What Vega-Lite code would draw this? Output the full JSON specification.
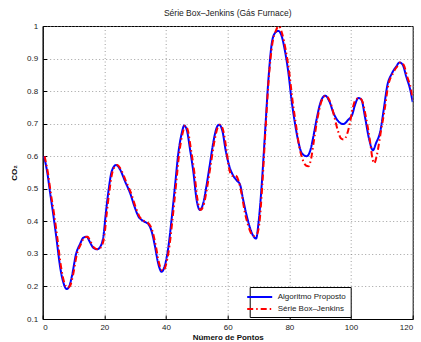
{
  "$schema": "https://vega.github.io/schema/vega-lite/v6.json",
  "width": 370,
  "height": 293,
  "autosize": {"type": "none"},
  "padding": {"left": 42.7, "top": 26, "right": 8.3, "bottom": 23},
  "background": "white",
  "title": {"text": "Série Box–Jenkins (Gás Furnace)", "fontSize": 8.5, "fontWeight": "normal", "font": "Liberation Sans", "color": "#222", "offset": 5},
  "config": {
    "font": "Liberation Sans",
    "view": {"stroke": "black", "strokeWidth": 1},
    "axis": {
      "domainColor": "black", "domainWidth": 1,
      "gridColor": "#888", "gridDash": [1, 2.5], "gridOpacity": 1, "gridWidth": 0.8,
      "tickColor": "black", "tickSize": -4, "tickWidth": 1,
      "labelFont": "Liberation Sans", "labelFontSize": 8, "labelColor": "#222",
      "titleFont": "Liberation Sans", "titleFontSize": 8, "titleFontWeight": "bold", "titleColor": "#111"
    },
    "legend": {
      "orient": "none", "legendX": 207, "legendY": 261,
      "title": null,
      "strokeColor": "black", "fillColor": "white", "padding": 4,
      "symbolType": "M-2.5,0H2.5", "symbolSize": 100, "symbolStrokeWidth": 2,
      "labelFont": "Liberation Sans", "labelFontSize": 8, "labelColor": "#222", "labelOffset": 12,
      "rowPadding": 2
    }
  },
  "data": {"values": [
    {"t": 0.43, "v": 0.600, "s": "Algoritmo Proposto"},
    {"t": 1.5, "v": 0.549, "s": "Algoritmo Proposto"},
    {"t": 2.4, "v": 0.488, "s": "Algoritmo Proposto"},
    {"t": 3.5, "v": 0.416, "s": "Algoritmo Proposto"},
    {"t": 4.5, "v": 0.345, "s": "Algoritmo Proposto"},
    {"t": 5.6, "v": 0.263, "s": "Algoritmo Proposto"},
    {"t": 6.7, "v": 0.212, "s": "Algoritmo Proposto"},
    {"t": 7.8, "v": 0.192, "s": "Algoritmo Proposto"},
    {"t": 8.6, "v": 0.200, "s": "Algoritmo Proposto"},
    {"t": 9.5, "v": 0.233, "s": "Algoritmo Proposto"},
    {"t": 10.8, "v": 0.299, "s": "Algoritmo Proposto"},
    {"t": 12.1, "v": 0.330, "s": "Algoritmo Proposto"},
    {"t": 13.2, "v": 0.350, "s": "Algoritmo Proposto"},
    {"t": 14.3, "v": 0.353, "s": "Algoritmo Proposto"},
    {"t": 15.1, "v": 0.340, "s": "Algoritmo Proposto"},
    {"t": 16.4, "v": 0.319, "s": "Algoritmo Proposto"},
    {"t": 17.7, "v": 0.314, "s": "Algoritmo Proposto"},
    {"t": 18.8, "v": 0.324, "s": "Algoritmo Proposto"},
    {"t": 19.7, "v": 0.355, "s": "Algoritmo Proposto"},
    {"t": 20.5, "v": 0.427, "s": "Algoritmo Proposto"},
    {"t": 21.4, "v": 0.498, "s": "Algoritmo Proposto"},
    {"t": 22.4, "v": 0.554, "s": "Algoritmo Proposto"},
    {"t": 23.8, "v": 0.573, "s": "Algoritmo Proposto"},
    {"t": 25.1, "v": 0.559, "s": "Algoritmo Proposto"},
    {"t": 26.7, "v": 0.523, "s": "Algoritmo Proposto"},
    {"t": 28.3, "v": 0.488, "s": "Algoritmo Proposto"},
    {"t": 29.9, "v": 0.442, "s": "Algoritmo Proposto"},
    {"t": 31.0, "v": 0.416, "s": "Algoritmo Proposto"},
    {"t": 32.6, "v": 0.401, "s": "Algoritmo Proposto"},
    {"t": 34.3, "v": 0.391, "s": "Algoritmo Proposto"},
    {"t": 35.3, "v": 0.370, "s": "Algoritmo Proposto"},
    {"t": 36.4, "v": 0.324, "s": "Algoritmo Proposto"},
    {"t": 37.4, "v": 0.273, "s": "Algoritmo Proposto"},
    {"t": 38.6, "v": 0.245, "s": "Algoritmo Proposto"},
    {"t": 39.4, "v": 0.258, "s": "Algoritmo Proposto"},
    {"t": 40.8, "v": 0.324, "s": "Algoritmo Proposto"},
    {"t": 41.8, "v": 0.406, "s": "Algoritmo Proposto"},
    {"t": 42.9, "v": 0.508, "s": "Algoritmo Proposto"},
    {"t": 44.0, "v": 0.610, "s": "Algoritmo Proposto"},
    {"t": 45.1, "v": 0.671, "s": "Algoritmo Proposto"},
    {"t": 45.9, "v": 0.694, "s": "Algoritmo Proposto"},
    {"t": 46.7, "v": 0.682, "s": "Algoritmo Proposto"},
    {"t": 47.8, "v": 0.620, "s": "Algoritmo Proposto"},
    {"t": 48.9, "v": 0.549, "s": "Algoritmo Proposto"},
    {"t": 49.9, "v": 0.467, "s": "Algoritmo Proposto"},
    {"t": 51.0, "v": 0.435, "s": "Algoritmo Proposto"},
    {"t": 52.1, "v": 0.457, "s": "Algoritmo Proposto"},
    {"t": 53.1, "v": 0.508, "s": "Algoritmo Proposto"},
    {"t": 54.3, "v": 0.580, "s": "Algoritmo Proposto"},
    {"t": 55.3, "v": 0.641, "s": "Algoritmo Proposto"},
    {"t": 56.4, "v": 0.687, "s": "Algoritmo Proposto"},
    {"t": 57.2, "v": 0.697, "s": "Algoritmo Proposto"},
    {"t": 58.3, "v": 0.677, "s": "Algoritmo Proposto"},
    {"t": 59.3, "v": 0.620, "s": "Algoritmo Proposto"},
    {"t": 60.4, "v": 0.574, "s": "Algoritmo Proposto"},
    {"t": 61.8, "v": 0.540, "s": "Algoritmo Proposto"},
    {"t": 62.9, "v": 0.526, "s": "Algoritmo Proposto"},
    {"t": 64.0, "v": 0.513, "s": "Algoritmo Proposto"},
    {"t": 65.0, "v": 0.467, "s": "Algoritmo Proposto"},
    {"t": 66.2, "v": 0.416, "s": "Algoritmo Proposto"},
    {"t": 67.2, "v": 0.381, "s": "Algoritmo Proposto"},
    {"t": 68.3, "v": 0.355, "s": "Algoritmo Proposto"},
    {"t": 69.2, "v": 0.347, "s": "Algoritmo Proposto"},
    {"t": 70.0, "v": 0.396, "s": "Algoritmo Proposto"},
    {"t": 71.0, "v": 0.508, "s": "Algoritmo Proposto"},
    {"t": 72.1, "v": 0.671, "s": "Algoritmo Proposto"},
    {"t": 73.2, "v": 0.835, "s": "Algoritmo Proposto"},
    {"t": 74.3, "v": 0.947, "s": "Algoritmo Proposto"},
    {"t": 75.3, "v": 0.978, "s": "Algoritmo Proposto"},
    {"t": 76.4, "v": 0.985, "s": "Algoritmo Proposto"},
    {"t": 77.4, "v": 0.972, "s": "Algoritmo Proposto"},
    {"t": 78.5, "v": 0.927, "s": "Algoritmo Proposto"},
    {"t": 79.7, "v": 0.855, "s": "Algoritmo Proposto"},
    {"t": 80.7, "v": 0.773, "s": "Algoritmo Proposto"},
    {"t": 81.8, "v": 0.702, "s": "Algoritmo Proposto"},
    {"t": 83.0, "v": 0.641, "s": "Algoritmo Proposto"},
    {"t": 84.0, "v": 0.610, "s": "Algoritmo Proposto"},
    {"t": 85.6, "v": 0.600, "s": "Algoritmo Proposto"},
    {"t": 86.7, "v": 0.615, "s": "Algoritmo Proposto"},
    {"t": 87.8, "v": 0.661, "s": "Algoritmo Proposto"},
    {"t": 88.9, "v": 0.717, "s": "Algoritmo Proposto"},
    {"t": 90.2, "v": 0.768, "s": "Algoritmo Proposto"},
    {"t": 91.6, "v": 0.786, "s": "Algoritmo Proposto"},
    {"t": 93.0, "v": 0.768, "s": "Algoritmo Proposto"},
    {"t": 94.3, "v": 0.733, "s": "Algoritmo Proposto"},
    {"t": 95.9, "v": 0.707, "s": "Algoritmo Proposto"},
    {"t": 97.5, "v": 0.699, "s": "Algoritmo Proposto"},
    {"t": 99.1, "v": 0.712, "s": "Algoritmo Proposto"},
    {"t": 100.4, "v": 0.728, "s": "Algoritmo Proposto"},
    {"t": 101.3, "v": 0.758, "s": "Algoritmo Proposto"},
    {"t": 102.4, "v": 0.779, "s": "Algoritmo Proposto"},
    {"t": 103.4, "v": 0.773, "s": "Algoritmo Proposto"},
    {"t": 104.5, "v": 0.722, "s": "Algoritmo Proposto"},
    {"t": 105.9, "v": 0.651, "s": "Algoritmo Proposto"},
    {"t": 107.1, "v": 0.618, "s": "Algoritmo Proposto"},
    {"t": 108.1, "v": 0.640, "s": "Algoritmo Proposto"},
    {"t": 109.5, "v": 0.677, "s": "Algoritmo Proposto"},
    {"t": 110.6, "v": 0.743, "s": "Algoritmo Proposto"},
    {"t": 111.7, "v": 0.814, "s": "Algoritmo Proposto"},
    {"t": 113.3, "v": 0.855, "s": "Algoritmo Proposto"},
    {"t": 114.7, "v": 0.876, "s": "Algoritmo Proposto"},
    {"t": 115.7, "v": 0.888, "s": "Algoritmo Proposto"},
    {"t": 116.8, "v": 0.880, "s": "Algoritmo Proposto"},
    {"t": 117.9, "v": 0.845, "s": "Algoritmo Proposto"},
    {"t": 119.2, "v": 0.804, "s": "Algoritmo Proposto"},
    {"t": 120.0, "v": 0.766, "s": "Algoritmo Proposto"},

    {"t": 0.6, "v": 0.600, "s": "Série Box–Jenkins"},
    {"t": 1.7, "v": 0.549, "s": "Série Box–Jenkins"},
    {"t": 2.6, "v": 0.488, "s": "Série Box–Jenkins"},
    {"t": 3.8, "v": 0.416, "s": "Série Box–Jenkins"},
    {"t": 4.8, "v": 0.345, "s": "Série Box–Jenkins"},
    {"t": 5.9, "v": 0.263, "s": "Série Box–Jenkins"},
    {"t": 7.0, "v": 0.212, "s": "Série Box–Jenkins"},
    {"t": 8.1, "v": 0.196, "s": "Série Box–Jenkins"},
    {"t": 8.9, "v": 0.202, "s": "Série Box–Jenkins"},
    {"t": 9.8, "v": 0.233, "s": "Série Box–Jenkins"},
    {"t": 11.1, "v": 0.299, "s": "Série Box–Jenkins"},
    {"t": 12.4, "v": 0.330, "s": "Série Box–Jenkins"},
    {"t": 13.5, "v": 0.350, "s": "Série Box–Jenkins"},
    {"t": 14.6, "v": 0.353, "s": "Série Box–Jenkins"},
    {"t": 15.4, "v": 0.340, "s": "Série Box–Jenkins"},
    {"t": 16.7, "v": 0.319, "s": "Série Box–Jenkins"},
    {"t": 18.0, "v": 0.314, "s": "Série Box–Jenkins"},
    {"t": 19.1, "v": 0.324, "s": "Série Box–Jenkins"},
    {"t": 20.0, "v": 0.355, "s": "Série Box–Jenkins"},
    {"t": 20.8, "v": 0.427, "s": "Série Box–Jenkins"},
    {"t": 21.7, "v": 0.498, "s": "Série Box–Jenkins"},
    {"t": 22.7, "v": 0.554, "s": "Série Box–Jenkins"},
    {"t": 24.1, "v": 0.573, "s": "Série Box–Jenkins"},
    {"t": 25.4, "v": 0.559, "s": "Série Box–Jenkins"},
    {"t": 27.0, "v": 0.523, "s": "Série Box–Jenkins"},
    {"t": 28.6, "v": 0.488, "s": "Série Box–Jenkins"},
    {"t": 30.2, "v": 0.442, "s": "Série Box–Jenkins"},
    {"t": 31.3, "v": 0.416, "s": "Série Box–Jenkins"},
    {"t": 32.9, "v": 0.401, "s": "Série Box–Jenkins"},
    {"t": 34.6, "v": 0.391, "s": "Série Box–Jenkins"},
    {"t": 35.6, "v": 0.370, "s": "Série Box–Jenkins"},
    {"t": 36.7, "v": 0.324, "s": "Série Box–Jenkins"},
    {"t": 37.7, "v": 0.273, "s": "Série Box–Jenkins"},
    {"t": 38.9, "v": 0.248, "s": "Série Box–Jenkins"},
    {"t": 39.7, "v": 0.258, "s": "Série Box–Jenkins"},
    {"t": 41.1, "v": 0.324, "s": "Série Box–Jenkins"},
    {"t": 42.1, "v": 0.406, "s": "Série Box–Jenkins"},
    {"t": 43.2, "v": 0.508, "s": "Série Box–Jenkins"},
    {"t": 44.3, "v": 0.610, "s": "Série Box–Jenkins"},
    {"t": 45.4, "v": 0.671, "s": "Série Box–Jenkins"},
    {"t": 46.2, "v": 0.694, "s": "Série Box–Jenkins"},
    {"t": 47.0, "v": 0.682, "s": "Série Box–Jenkins"},
    {"t": 48.1, "v": 0.620, "s": "Série Box–Jenkins"},
    {"t": 49.2, "v": 0.549, "s": "Série Box–Jenkins"},
    {"t": 50.2, "v": 0.467, "s": "Série Box–Jenkins"},
    {"t": 51.3, "v": 0.435, "s": "Série Box–Jenkins"},
    {"t": 52.4, "v": 0.457, "s": "Série Box–Jenkins"},
    {"t": 53.4, "v": 0.508, "s": "Série Box–Jenkins"},
    {"t": 54.6, "v": 0.580, "s": "Série Box–Jenkins"},
    {"t": 55.6, "v": 0.641, "s": "Série Box–Jenkins"},
    {"t": 56.7, "v": 0.687, "s": "Série Box–Jenkins"},
    {"t": 57.5, "v": 0.697, "s": "Série Box–Jenkins"},
    {"t": 58.6, "v": 0.677, "s": "Série Box–Jenkins"},
    {"t": 59.6, "v": 0.620, "s": "Série Box–Jenkins"},
    {"t": 60.5, "v": 0.560, "s": "Série Box–Jenkins"},
    {"t": 61.5, "v": 0.540, "s": "Série Box–Jenkins"},
    {"t": 62.5, "v": 0.541, "s": "Série Box–Jenkins"},
    {"t": 63.5, "v": 0.525, "s": "Série Box–Jenkins"},
    {"t": 64.6, "v": 0.480, "s": "Série Box–Jenkins"},
    {"t": 65.5, "v": 0.430, "s": "Série Box–Jenkins"},
    {"t": 66.5, "v": 0.392, "s": "Série Box–Jenkins"},
    {"t": 67.5, "v": 0.365, "s": "Série Box–Jenkins"},
    {"t": 68.5, "v": 0.355, "s": "Série Box–Jenkins"},
    {"t": 69.5, "v": 0.360, "s": "Série Box–Jenkins"},
    {"t": 70.3, "v": 0.396, "s": "Série Box–Jenkins"},
    {"t": 71.2, "v": 0.508, "s": "Série Box–Jenkins"},
    {"t": 72.2, "v": 0.671, "s": "Série Box–Jenkins"},
    {"t": 73.3, "v": 0.835, "s": "Série Box–Jenkins"},
    {"t": 74.5, "v": 0.947, "s": "Série Box–Jenkins"},
    {"t": 75.6, "v": 0.985, "s": "Série Box–Jenkins"},
    {"t": 76.6, "v": 1.0, "s": "Série Box–Jenkins"},
    {"t": 77.7, "v": 0.975, "s": "Série Box–Jenkins"},
    {"t": 78.8, "v": 0.927, "s": "Série Box–Jenkins"},
    {"t": 80.0, "v": 0.855, "s": "Série Box–Jenkins"},
    {"t": 81.0, "v": 0.773, "s": "Série Box–Jenkins"},
    {"t": 82.1, "v": 0.700, "s": "Série Box–Jenkins"},
    {"t": 83.2, "v": 0.630, "s": "Série Box–Jenkins"},
    {"t": 84.3, "v": 0.590, "s": "Série Box–Jenkins"},
    {"t": 85.3, "v": 0.572, "s": "Série Box–Jenkins"},
    {"t": 86.2, "v": 0.569, "s": "Série Box–Jenkins"},
    {"t": 87.0, "v": 0.590, "s": "Série Box–Jenkins"},
    {"t": 88.0, "v": 0.650, "s": "Série Box–Jenkins"},
    {"t": 89.1, "v": 0.715, "s": "Série Box–Jenkins"},
    {"t": 90.4, "v": 0.768, "s": "Série Box–Jenkins"},
    {"t": 91.8, "v": 0.786, "s": "Série Box–Jenkins"},
    {"t": 92.8, "v": 0.776, "s": "Série Box–Jenkins"},
    {"t": 93.5, "v": 0.760, "s": "Série Box–Jenkins"},
    {"t": 94.6, "v": 0.720, "s": "Série Box–Jenkins"},
    {"t": 95.7, "v": 0.680, "s": "Série Box–Jenkins"},
    {"t": 96.7, "v": 0.655, "s": "Série Box–Jenkins"},
    {"t": 97.6, "v": 0.651, "s": "Série Box–Jenkins"},
    {"t": 98.6, "v": 0.665, "s": "Série Box–Jenkins"},
    {"t": 99.6, "v": 0.700, "s": "Série Box–Jenkins"},
    {"t": 100.6, "v": 0.750, "s": "Série Box–Jenkins"},
    {"t": 101.6, "v": 0.775, "s": "Série Box–Jenkins"},
    {"t": 102.6, "v": 0.779, "s": "Série Box–Jenkins"},
    {"t": 103.6, "v": 0.770, "s": "Série Box–Jenkins"},
    {"t": 104.8, "v": 0.722, "s": "Série Box–Jenkins"},
    {"t": 106.1, "v": 0.650, "s": "Série Box–Jenkins"},
    {"t": 107.0, "v": 0.590, "s": "Série Box–Jenkins"},
    {"t": 107.5, "v": 0.578, "s": "Série Box–Jenkins"},
    {"t": 108.3, "v": 0.600, "s": "Série Box–Jenkins"},
    {"t": 109.7, "v": 0.677, "s": "Série Box–Jenkins"},
    {"t": 110.9, "v": 0.743, "s": "Série Box–Jenkins"},
    {"t": 112.0, "v": 0.814, "s": "Série Box–Jenkins"},
    {"t": 113.6, "v": 0.855, "s": "Série Box–Jenkins"},
    {"t": 115.0, "v": 0.876, "s": "Série Box–Jenkins"},
    {"t": 116.0, "v": 0.888, "s": "Série Box–Jenkins"},
    {"t": 117.1, "v": 0.880, "s": "Série Box–Jenkins"},
    {"t": 118.2, "v": 0.845, "s": "Série Box–Jenkins"},
    {"t": 119.5, "v": 0.804, "s": "Série Box–Jenkins"},
    {"t": 120.0, "v": 0.775, "s": "Série Box–Jenkins"}
  ]},
  "mark": {"type": "line", "strokeWidth": 2, "interpolate": "monotone", "clip": true},
  "encoding": {
    "x": {"field": "t", "type": "quantitative", "title": "Número de Pontos",
      "scale": {"domain": [0, 120], "nice": false},
      "axis": {"values": [0, 20, 40, 60, 80, 100, 120], "labelPadding": 8, "titlePadding": 2}},
    "y": {"field": "v", "type": "quantitative", "title": "CO₂",
      "scale": {"domain": [0.1, 1], "nice": false},
      "axis": {"values": [0.1, 0.2, 0.3, 0.4, 0.5, 0.6, 0.7, 0.8, 0.9, 1], "format": "~g", "labelPadding": 9, "titlePadding": 8}},
    "color": {"field": "s", "type": "nominal",
      "scale": {"domain": ["Algoritmo Proposto", "Série Box–Jenkins"], "range": ["#0000ff", "#ff0000"]}},
    "strokeDash": {"field": "s", "type": "nominal",
      "scale": {"domain": ["Algoritmo Proposto", "Série Box–Jenkins"], "range": [[1, 0], [6, 3, 1.5, 3]]}},
    "order": {"field": "s", "sort": "descending"}
  }
}
